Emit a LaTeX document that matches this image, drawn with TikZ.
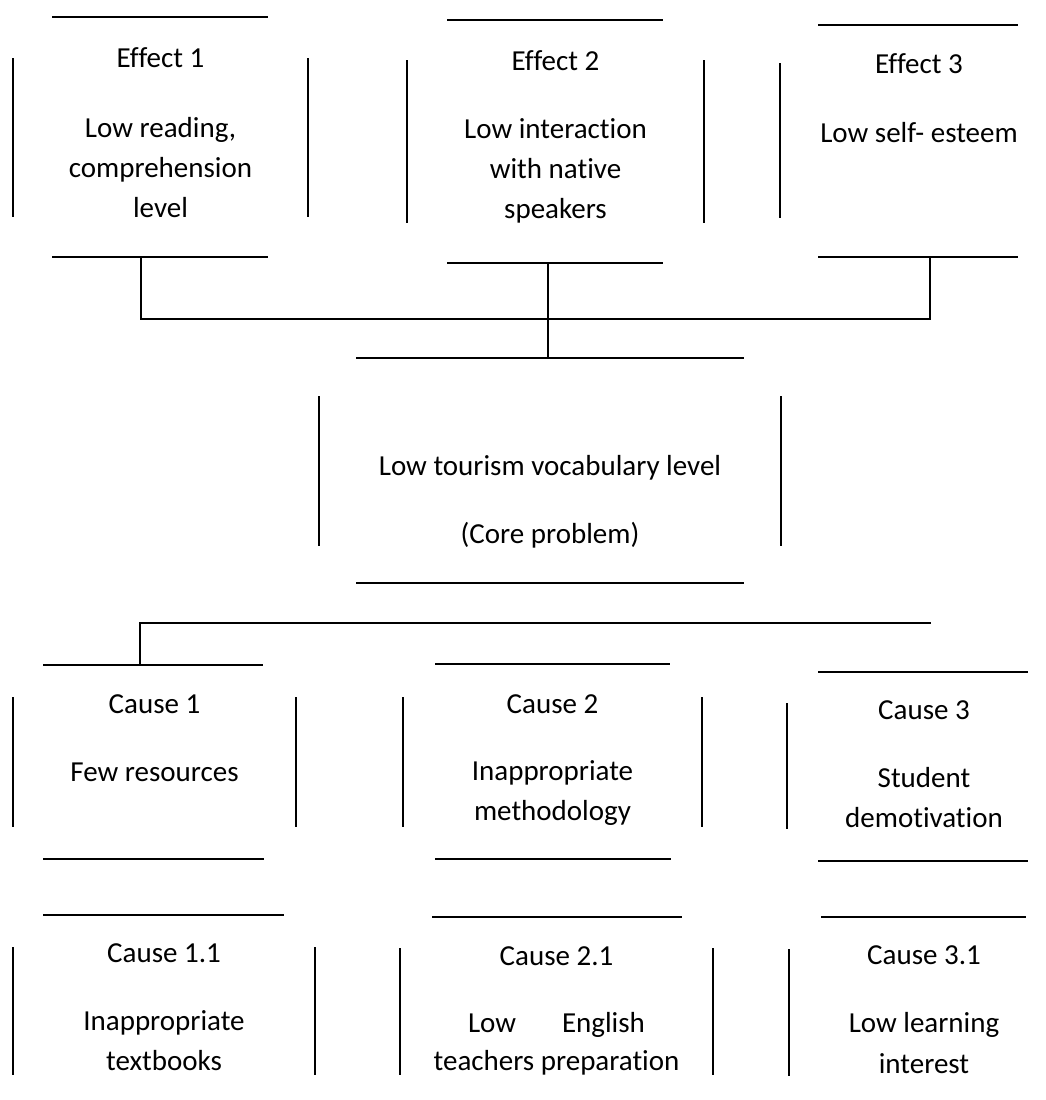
\documentclass[tikz,border=0pt]{standalone}
\usepackage{fontspec}
\setmainfont[Ligatures=NoCommon]{Carlito}
\begin{document}
\begin{tikzpicture}[x=1pt,y=-1pt,
  rule/.style={line width=1.7pt,black},
  lbl/.style={anchor=base,inner sep=0pt,font=\fontsize{29}{40}\selectfont}]
\useasboundingbox (0,0) rectangle (1046,1100);

% ---- Effect 1 ----
\draw[rule] (52,17) -- (268,17);
\draw[rule] (13,58) -- (13,217);
\draw[rule] (308,58) -- (308,217);
\draw[rule] (52,257) -- (268,257);
\node[lbl] (e1t) at (160.5,67) {Effect 1};
\node[lbl] (e1a) at (160.5,137) {Low reading,};
\node[lbl] (e1b) at (160.5,177) {comprehension};
\node[lbl] (e1c) at (160.5,217) {level};

% ---- Effect 2 ----
\draw[rule] (447,20) -- (663,20);
\draw[rule] (407,60) -- (407,223);
\draw[rule] (704,60) -- (704,223);
\draw[rule] (447,263) -- (663,263);
\node[lbl] (e2t) at (555.5,70) {Effect 2};
\node[lbl] (e2a) at (555.5,138) {Low interaction};
\node[lbl] (e2b) at (555.5,178) {with native};
\node[lbl] (e2c) at (555.5,218) {speakers};

% ---- Effect 3 ----
\draw[rule] (818,25) -- (1018,25);
\draw[rule] (780,63) -- (780,218);
\draw[rule] (818,257) -- (1018,257);
\node[lbl] (e3t) at (919,73) {Effect 3};
\node[lbl] (e3a) at (919,142) {Low self- esteem};

% ---- Core problem ----
\draw[rule] (356,358) -- (744,358);
\draw[rule] (319,396) -- (319,546);
\draw[rule] (781,396) -- (781,546);
\draw[rule] (356,583) -- (744,583);
\node[lbl] (core) at (550,475) {Low tourism vocabulary level};
\node[lbl] (corelbl) at (550,543) {(Core problem)};

% ---- Cause 1 ----
\draw[rule] (43,665) -- (263,665);
\draw[rule] (13,697) -- (13,827);
\draw[rule] (296,697) -- (296,827);
\draw[rule] (43,859) -- (264,859);
\node[lbl] (c1t) at (154.5,713) {Cause 1};
\node[lbl] (c1a) at (154.5,781) {Few resources};

% ---- Cause 2 ----
\draw[rule] (435,664) -- (670,664);
\draw[rule] (403,697) -- (403,827);
\draw[rule] (702,697) -- (702,827);
\draw[rule] (435,859) -- (671,859);
\node[lbl] (c2t) at (552.5,713) {Cause 2};
\node[lbl] (c2a) at (552.5,780) {Inappropriate};
\node[lbl] (c2b) at (552.5,820) {methodology};

% ---- Cause 3 ----
\draw[rule] (818,672) -- (1028,672);
\draw[rule] (787,703) -- (787,829);
\draw[rule] (818,861) -- (1028,861);
\node[lbl] (c3t) at (924,719) {Cause 3};
\node[lbl] (c3a) at (924,787) {Student};
\node[lbl] (c3b) at (924,827) {demotivation};

% ---- Cause 1.1 ----
\draw[rule] (43,915) -- (284,915);
\draw[rule] (13,947) -- (13,1075);
\draw[rule] (315,947) -- (315,1075);
\node[lbl] (c11t) at (164,962) {Cause 1.1};
\node[lbl] (c11a) at (164,1030) {Inappropriate};
\node[lbl] (c11b) at (164,1070) {textbooks};

% ---- Cause 2.1 ----
\draw[rule] (432,917) -- (682,917);
\draw[rule] (400,948) -- (400,1075);
\draw[rule] (713,948) -- (713,1075);
\node[lbl] (c21t) at (556.5,965) {Cause 2.1};
\node[lbl] (c21a) at (556.5,1032) {\hbox to 177pt{Low\hfill English}};
\node[lbl] (c21b) at (556.5,1070) {teachers preparation};

% ---- Cause 3.1 ----
\draw[rule] (821,917) -- (1026,917);
\draw[rule] (789,949) -- (789,1076);
\node[lbl] (c31t) at (924,964) {Cause 3.1};
\node[lbl] (c31a) at (924,1032) {Low learning};
\node[lbl] (c31b) at (924,1073) {interest};

% ---- connectors ----
\coordinate (e1foot) at (141,257);
\coordinate (e2foot) at (548,263);
\coordinate (e3foot) at (930,257);
\coordinate (coretop) at (548,358);
\coordinate (bar) at (930,319);
\coordinate (c1top) at (140,665);
\coordinate (barend) at (931,623);
\draw[rule] (e1foot) |- (bar) -- (e3foot);
\draw[rule] (e2foot) -- (coretop);
\draw[rule] (c1top) |- (barend);
\end{tikzpicture}
\end{document}
